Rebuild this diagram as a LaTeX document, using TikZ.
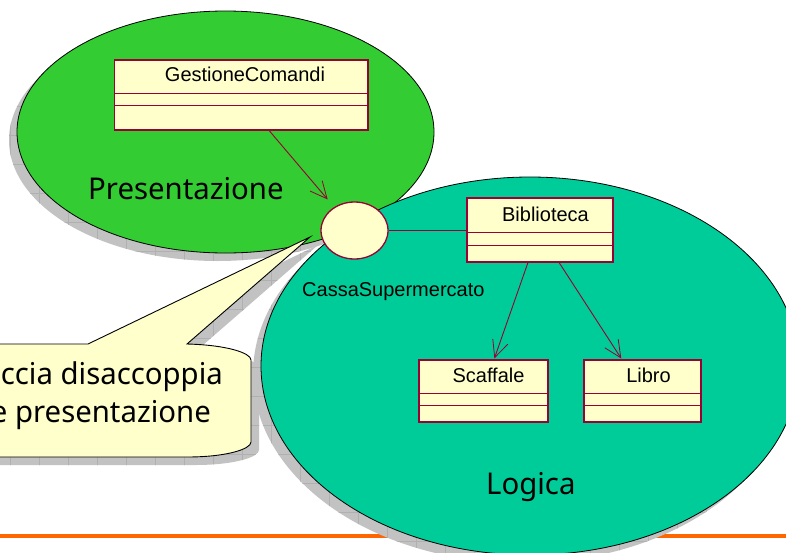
\documentclass[tikz,border=0pt]{standalone}
\usepackage{fontspec}
\setmainfont{Liberation Sans}
\newfontfamily\tahomaish[FakeStretch=0.978]{Noto Sans}
\usetikzlibrary{arrows.meta,calc,shapes.geometric}
\definecolor{umlline}{HTML}{990033}
\definecolor{umlfill}{HTML}{FFFFCC}
\definecolor{presgreen}{HTML}{33CC33}
\definecolor{logteal}{HTML}{00CC99}
\definecolor{shadowgray}{HTML}{C2C2C2}
\definecolor{shadowline}{HTML}{B0B0B0}
\definecolor{rulecolor}{HTML}{FF6600}
\newcommand{\shadowtexture}{%
  \fill[shadowgray] (-100,0) rectangle (800,600);
  \begin{scope}[shift={(10,19)}]
    \draw[shadowline,line width=.5pt,step=29pt] (-116,-29) grid (812,580);
  \end{scope}}
\tikzset{
  classbox/.style={draw=umlline,fill=umlfill,line width=1.3pt,rectangle,inner sep=0pt},
  classrule/.style={draw=umlline,line width=1pt},
  classname/.style={font=\fontsize{20}{24}\selectfont,anchor=base,inner sep=0pt},
  region/.style={draw=black,line width=.8pt,ellipse,inner sep=0pt},
  bigtext/.style={font=\tahomaish\fontsize{30}{36}\selectfont,inner sep=0pt},
  link/.style={draw=umlline,line width=.9pt},
  dep/.style={link,-{Straight Barb[length=17pt,width=16pt,line width=.8pt]}},
}
\begin{document}
\begin{tikzpicture}[x=1pt,y=-1pt]
\useasboundingbox (0,0) rectangle (786,552);
\clip (0,0) rectangle (786,552);
% rule at the foot of the slide
\draw[rulecolor,line width=3.6pt] (0,536) -- (786,536);
% shadows of the two regions
\begin{scope}
  \clip (217.5,140) ellipse [x radius=208.5,y radius=121];
  \shadowtexture
\end{scope}
\begin{scope}
  \clip (522,374) ellipse [x radius=269,y radius=189];
  \shadowtexture
\end{scope}
% regions
\node[region,fill=presgreen,minimum width=417pt,minimum height=242pt] (pres) at (225.5,132) {};
\node[region,fill=logteal,minimum width=538pt,minimum height=378pt] (logi) at (530,366) {};
% callout shadow
\begin{scope}
  \clip (-60,352) -- (96,352) -- (318,245) -- (195,352)
    .. controls (235,353) and (259,361) .. (259,368) -- (259,450)
    .. controls (259,457) and (235,465) .. (195,465) -- (-60,465) -- cycle;
  \shadowtexture
\end{scope}
% callout
\filldraw[fill=umlfill,draw=black,line width=.9pt]
  (-60,344) -- (88,344) -- (310,237) -- (187,344)
  .. controls (227,345) and (251,353) .. (251,360) -- (251,442)
  .. controls (251,449) and (227,457) .. (187,457) -- (-60,457) -- cycle;
\node[bigtext,anchor=base east] (calloutone) at (223,384.5) {ccia disaccoppia};
\node[bigtext,anchor=base east] (callouttwo) at (211,422) {e presentazione};
% region labels
\node[bigtext,anchor=base west] (preslabel) at (88,199) {Presentazione};
\node[bigtext,anchor=base west] (logilabel) at (486,494) {Logica};
% classes
\node[classbox,minimum width=253.5pt,minimum height=70pt] (gest) at (241.2,95) {};
\draw[classrule] (gest.north west |- 0,93) -- (gest.north east |- 0,93);
\draw[classrule] (gest.north west |- 0,105) -- (gest.north east |- 0,105);
\node[classname] (gestname) at (245,81.7) {GestioneComandi};

\node[classbox,minimum width=146pt,minimum height=64pt] (bib) at (540,230) {};
\draw[classrule] (bib.north west |- 0,232) -- (bib.north east |- 0,232);
\draw[classrule] (bib.north west |- 0,245) -- (bib.north east |- 0,245);
\node[classname] (bibname) at (545.5,221.7) {Biblioteca};

\node[classbox,minimum width=129pt,minimum height=62pt] (scaf) at (483.5,391) {};
\draw[classrule] (scaf.north west |- 0,393) -- (scaf.north east |- 0,393);
\draw[classrule] (scaf.north west |- 0,405) -- (scaf.north east |- 0,405);
\node[classname] (scafname) at (488.5,382.7) {Scaffale};

\node[classbox,minimum width=117pt,minimum height=62pt] (lib) at (642.5,391) {};
\draw[classrule] (lib.north west |- 0,393) -- (lib.north east |- 0,393);
\draw[classrule] (lib.north west |- 0,405) -- (lib.north east |- 0,405);
\node[classname] (libname) at (648.5,382.7) {Libro};
% interface
\node[classbox,ellipse,minimum width=67pt,minimum height=57pt] (iface) at (354.5,230.5) {};
\node[font=\fontsize{20}{24}\selectfont,anchor=base west,inner sep=0pt] (ifacename) at (302,296) {CassaSupermercato};
% connectors
\draw[link] (iface.east) -- (iface.east -| bib.west);
\draw[dep,shorten >=10pt] ($(gest.south west)!0.61!(gest.south east)$) -- (iface.131);
\draw[dep,shorten >=1pt] ($(bib.south west)!0.418!(bib.south east)$) -- ($(scaf.north west)!0.581!(scaf.north east)$);
\draw[dep,shorten >=1pt] ($(bib.south west)!0.63!(bib.south east)$) -- ($(lib.north west)!0.325!(lib.north east)$);
\end{tikzpicture}
\end{document}
